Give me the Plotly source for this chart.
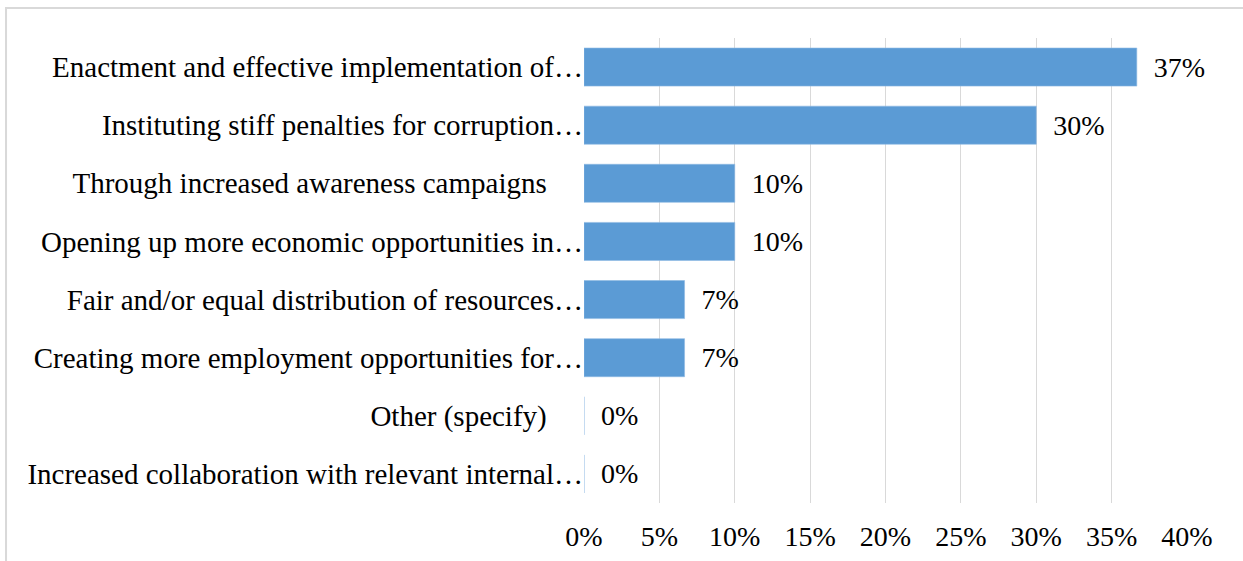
import plotly.graph_objects as go

NBSP = "\u00a0"

# survey responses (n = 30), shown top to bottom
categories = [
    "Enactment and effective implementation of…",
    "Instituting stiff penalties for corruption…",
    "Through increased awareness campaigns" + NBSP * 5,
    "Opening up more economic opportunities in…",
    "Fair and/or equal distribution of resources…",
    "Creating more employment opportunities for…",
    "Other (specify)" + NBSP * 5,
    "Increased collaboration with relevant internal…",
]
shares = [0.3667, 0.30, 0.10, 0.10, 0.0667, 0.0667, 0.0, 0.0]
tick_vals = [0, 0.05, 0.10, 0.15, 0.20, 0.25, 0.30, 0.35, 0.40]

FONT = "Liberation Serif"
BAR = "#5B9BD5"
GRID = "#D9D9D9"

labels = [NBSP * 2 + f"{v:.0%}" for v in shares]

fig = go.Figure(go.Bar(
    x=shares,
    y=categories,
    orientation="h",
    marker=dict(color=BAR, line=dict(color="#8DB8E2", width=0.6)),
    text=labels,
    textposition="outside",
    textfont=dict(family=FONT, size=28, color="#000000"),
    cliponaxis=False,
))

fig.update_xaxes(
    range=[0, 0.40],
    tickvals=tick_vals,
    tickformat=".0%",
    showgrid=True,
    gridcolor=GRID,
    gridwidth=1,
    zeroline=False,
    showline=False,
    ticks="",
    ticklabelstandoff=14,
    tickfont=dict(family=FONT, size=28, color="#000000"),
)
fig.update_yaxes(
    autorange="reversed",
    showgrid=False,
    showline=False,
    ticks="",
    ticklabelstandoff=0,
    tickfont=dict(family=FONT, size=29, color="#000000"),
)

# light frame around the chart area (as in the source image)
fig.add_shape(
    type="rect", xref="paper", yref="paper",
    x0=-0.9585, x1=1.2, y0=-0.3, y1=1.0645,
    line=dict(color=GRID, width=2), fillcolor="rgba(0,0,0,0)",
    layer="below",
)

fig.update_layout(
    width=1243,
    height=561,
    margin=dict(l=584, r=56, t=38, b=58, autoexpand=False),
    bargap=0.345,
    plot_bgcolor="#FFFFFF",
    paper_bgcolor="#FFFFFF",
    showlegend=False,
    font=dict(family=FONT, size=28, color="#000000"),
)

fig.write_html(
    "out.html",
    config={"displayModeBar": False},
    post_script="document.body.style.margin='0';",
)
